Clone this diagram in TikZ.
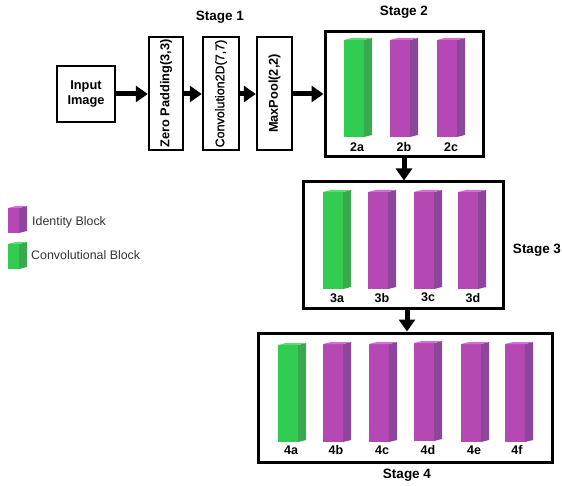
\documentclass[tikz,border=0pt]{standalone}
\usepackage{fontspec}
\setmainfont{Liberation Sans}
\newfontfamily\medfont[FakeBold=1.2]{Liberation Sans}
\usetikzlibrary{arrows.meta}
\definecolor{gF}{HTML}{31CD52}
\definecolor{gS}{HTML}{3AA84C}
\definecolor{gT}{HTML}{5BDB74}
\definecolor{pF}{HTML}{B648B3}
\definecolor{pS}{HTML}{8C469C}
\definecolor{pT}{HTML}{D36ED2}
\definecolor{legtext}{HTML}{333333}
\tikzset{
  sbox/.style={draw, line width=2.5pt, inner sep=0, minimum width=#1},
  stagebox/.style={draw, line width=3pt, inner sep=0},
  thickarrow/.style={line width=5pt, -{Triangle[length=12pt,width=16pt]}},
  stagelabel/.style={font=\fontsize{13.5}{15}\selectfont\bfseries},
  barlabel/.style={font=\fontsize{12.5}{14}\selectfont\bfseries},
  legendlabel/.style={font=\fontsize{12.4}{14}\selectfont, text=legtext, anchor=west, inner sep=0},
  boxtext/.style={font=\fontsize{12.8}{14.5}\selectfont\bfseries},
}
\newcommand\cube[6]{% name, x, ytop, height, front width, colour prefix
  \node[inner sep=0, outer sep=0, fill=#6F, minimum width=#5pt, minimum height=#4pt, anchor=north west] (#1) at (#2,#3) {};
  \fill[#6S] (#1.north east) -- ++(8,-2) -- ([xshift=8pt,yshift=2pt]#1.south east) -- (#1.south east) -- cycle;
  \fill[#6T] (#1.north west) -- (#1.north east) -- ++(8,-2) -- ([xshift=8pt,yshift=2pt]#1.north west) -- cycle;
}
\begin{document}
\begin{tikzpicture}[x=1pt,y=-1pt]
\useasboundingbox (0,0) rectangle (562,486);
% Stage 1
\node[stagelabel] (s1) at (220,17) {Stage 1};
\node[sbox=58pt, minimum height=56pt, boxtext, align=center, font=\fontsize{12.8}{14.5}\selectfont\bfseries] (in) at (86,94) {Input\\Image};
\node[sbox=34pt, minimum height=113pt] (zp) at (166,93.5) {};
\node[boxtext, rotate=90] (zpt) at (zp) {Zero Padding(3,3)};
\node[sbox=36pt, minimum height=113pt] (cv) at (221,93.5) {};
\node[rotate=90, font=\fontsize{12.5}{14}\medfont] (cvt) at (cv) {Convolution2D(7,7)};
\node[sbox=35pt, minimum height=113pt] (mp) at (274.5,93.5) {};
\node[boxtext, rotate=90] (mpt) at (mp) {MaxPool(2,2)};
% Stage 2
\node[stagelabel] (s2) at (404,12) {Stage 2};
\node[stagebox, minimum width=158pt, minimum height=125pt] (st2) at (404,94.5) {};
\cube{b2a}{344}{40}{97}{20}{g}
\cube{b2b}{390}{40}{97}{20}{p}
\cube{b2c}{437}{40}{97}{20}{p}
\node[barlabel] (l2a) at (357,147) {2a};
\node[barlabel] (l2b) at (404,147) {2b};
\node[barlabel] (l2c) at (451,147) {2c};
% Stage 3
\node[stagelabel] (s3) at (537,250) {Stage 3};
\node[stagebox, minimum width=200pt, minimum height=126pt] (st3) at (403,245) {};
\cube{b3a}{323}{192}{97}{20}{g}
\cube{b3b}{368}{192}{97}{20}{p}
\cube{b3c}{414}{192}{97}{20}{p}
\cube{b3d}{458}{192}{97}{20}{p}
\node[barlabel] (l3a) at (337,298) {3a};
\node[barlabel] (l3b) at (382,298) {3b};
\node[barlabel] (l3c) at (428,297) {3c};
\node[barlabel] (l3d) at (473,298) {3d};
% Stage 4
\node[stagebox, minimum width=294pt, minimum height=129pt] (st4) at (405,397.5) {};
\cube{b4a}{278}{345}{97}{20}{g}
\cube{b4b}{323}{344}{98}{20}{p}
\cube{b4c}{369}{344}{98}{20}{p}
\cube{b4d}{414}{343}{98}{20}{p}
\cube{b4e}{461}{344}{98}{20}{p}
\cube{b4f}{505}{344}{98}{20}{p}
\node[barlabel] (l4a) at (291,450) {4a};
\node[barlabel] (l4b) at (336,450) {4b};
\node[barlabel] (l4c) at (382,450) {4c};
\node[barlabel] (l4d) at (428,450) {4d};
\node[barlabel] (l4e) at (474,450) {4e};
\node[barlabel] (l4f) at (517,450) {4f};
\node[stagelabel] (s4) at (407,475) {Stage 4};
% Legend
\cube{legi}{8}{208}{25}{11}{p}
\node[legendlabel] (legit) at (32,222) {Identity Block};
\cube{legc}{8}{244}{25}{11}{g}
\node[legendlabel] (legct) at (31,255) {Convolutional Block};
% Arrows
\draw[thickarrow] (in.east) -- (in.east -| zp.west);
\draw[thickarrow] (zp.east |- in.east) -- (cv.west |- in.east);
\draw[thickarrow] (cv.east |- in.east) -- (mp.west |- in.east);
\draw[thickarrow] (mp.east |- in.east) -- (st2.west |- in.east);
\draw[thickarrow] (st2.south) -- (st2.south |- st3.north);
\draw[thickarrow] ([xshift=4pt]st3.south) -- ([xshift=4pt]st3.south |- st4.north);
\end{tikzpicture}
\end{document}
